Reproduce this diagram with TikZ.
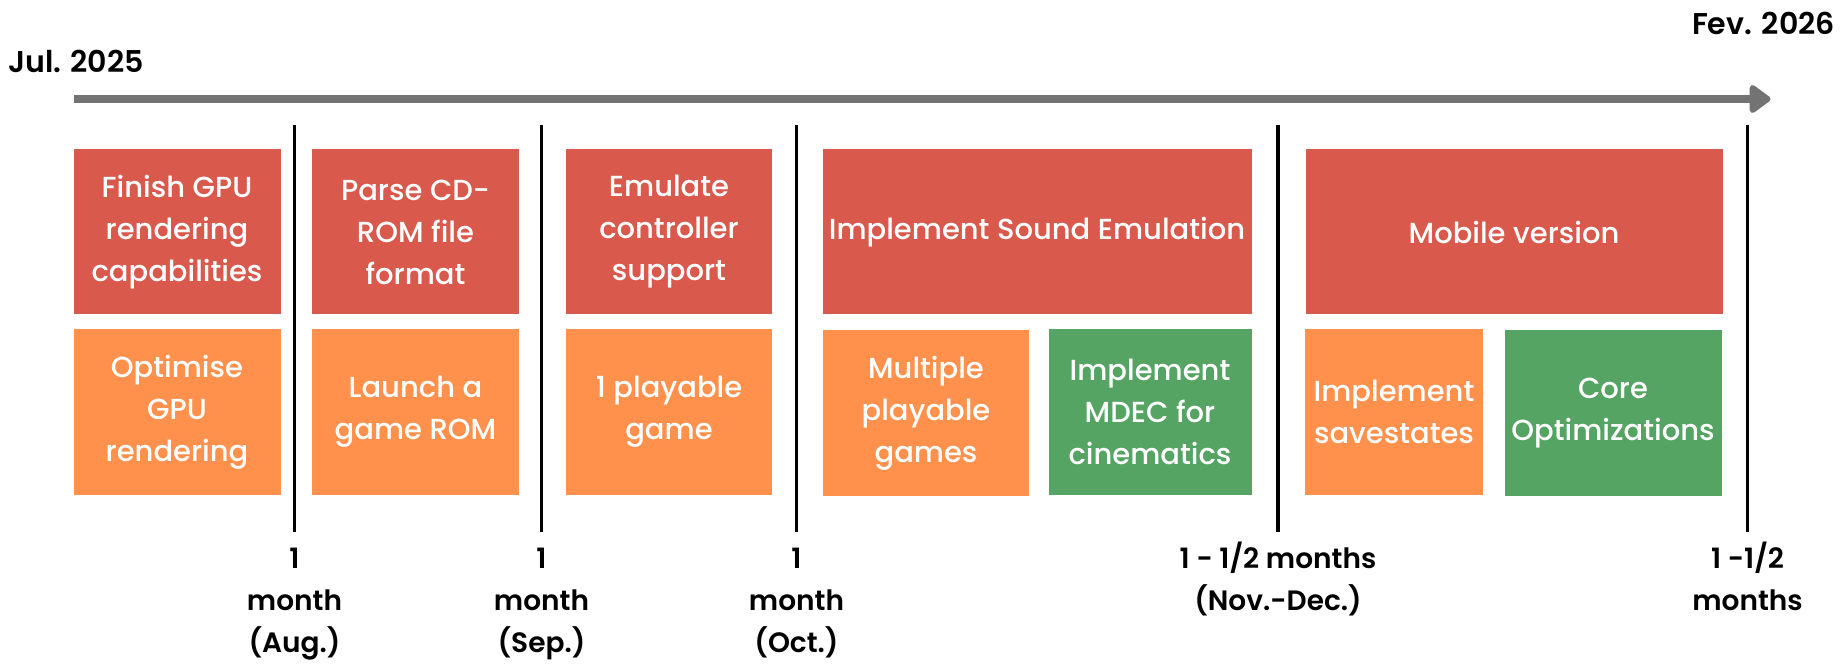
\documentclass[tikz,border=0pt]{standalone}
\usepackage{fontspec}
\setmainfont{Poppins}
\newfontfamily\medfont{Poppins Medium}
\newfontfamily\semifont{Poppins SemiBold}
\usepackage{xcolor}
\usepackage{tikz}
\definecolor{taskred}{RGB}{217, 89, 76}
\definecolor{taskorange}{RGB}{255, 145, 77}
\definecolor{taskgreen}{RGB}{85, 164, 99}
\definecolor{axisgray}{RGB}{115, 115, 115}
\usetikzlibrary{arrows.meta, positioning}

\begin{document}
\begin{tikzpicture}[x=1pt, y=-1pt,
    task/.style={rectangle, inner sep=0pt, minimum height=165pt, align=center, text=white, font=\medfont\fontsize{29}{42}\selectfont},
    milestone/.style={line width=3.5pt},
    duration/.style={anchor=base, inner sep=0pt, align=center, font=\semifont\fontsize{28}{42}\selectfont},
    datelabel/.style={inner sep=0pt, font=\semifont\fontsize{30}{38}\selectfont}
]
    \useasboundingbox (0,0) rectangle (1845,668);

    % Axis
    \coordinate (start) at (73.5,99);
    \coordinate (end) at (1770.5,99);
    \draw[axisgray, line width=8pt, -{Triangle[length=23pt, width=32pt, round]}] (start) -- (end);
    \node[datelabel, anchor=base west] (jul) at (8,73) {Jul. 2025};
    \node[datelabel, anchor=base east] (fev) at (1835,35) {Fev. 2026};

    % Milestones
    \foreach \x in {294.5, 541.5, 796.5, 1278, 1747.5}
        \draw[milestone] (\x,125) -- (\x,532);

    % Main tasks
    \node[task, fill=taskred, minimum width=207pt] (gpu) at (177,232) {Finish GPU\\rendering\\capabilities};
    \node[task, fill=taskred, minimum width=207pt] (cdrom) at (415.5,232) {Parse CD-\\ROM file\\format};
    \node[task, fill=taskred, minimum width=206pt] (controller) at (669,232) {Emulate\\controller\\support};
    \node[task, fill=taskred, minimum width=429pt] (sound) at (1037,232) {Implement Sound Emulation};
    \node[task, fill=taskred, minimum width=417pt] (mobile) at (1514,232) {Mobile version};

    % Secondary tasks
    \node[task, fill=taskorange, minimum width=207pt] (optgpu) at (177,412) {Optimise\\GPU\\rendering};
    \node[task, fill=taskorange, minimum width=207pt] (launchrom) at (415.5,412) {Launch a\\game ROM};
    \node[task, fill=taskorange, minimum width=206pt] (onegame) at (669,412) {1 playable\\game};
    \node[task, fill=taskorange, minimum width=206pt] (multigames) at (926,413) {Multiple\\playable\\games};
    \node[task, fill=taskgreen, minimum width=203pt] (mdec) at (1150,412) {Implement\\MDEC for\\cinematics};
    \node[task, fill=taskorange, minimum width=178pt] (savestates) at (1394,412) {Implement\\savestates};
    \node[task, fill=taskgreen, minimum width=217pt] (coreopt) at (1613,413) {Core\\Optimizations};

    % Durations
    \node[duration] (dur1) at (294.5,652) {1\\month\\(Aug.)};
    \node[duration] (dur2) at (541.5,652) {1\\month\\(Sep.)};
    \node[duration] (dur3) at (796.5,652) {1\\month\\(Oct.)};
    \node[duration] (dur4) at (1278,610) {1 - 1/2 months\\(Nov.-Dec.)};
    \node[duration] (dur5) at (1747.5,610) {1 -1/2\\months};
\end{tikzpicture}
\end{document}
